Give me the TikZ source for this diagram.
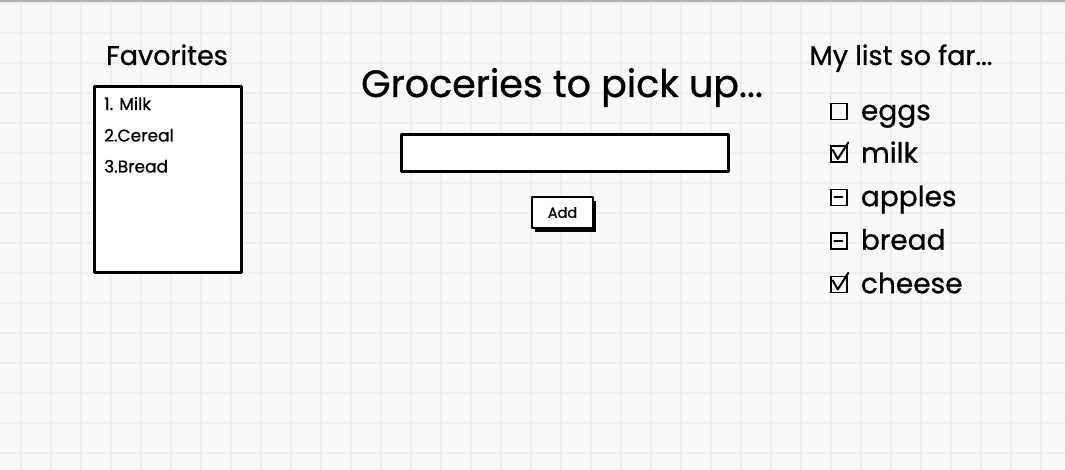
\documentclass[tikz,border=0pt]{standalone}
\usepackage{fontspec}
\setmainfont{Poppins}[FakeBold=0.8]
\usetikzlibrary{positioning}

\begin{document}
\begin{tikzpicture}[x=1pt,y=-1pt,
    sketch/.style={draw=black, line width=2.8pt, fill=white, line join=round},
    title/.style={font=\fontsize{27}{27}\selectfont, inner sep=0pt, anchor=base},
    entry/.style={font=\fontsize{17}{17}\selectfont, inner sep=0pt, anchor=base west},
    chkbox/.style={draw=black, line width=1.5pt, minimum size=16pt, inner sep=0pt},
    item/.style={font=\fontsize{28}{28}\selectfont, inner sep=0pt},
    tick/.style={line width=2pt, line cap=round, line join=round}]
    \useasboundingbox (0,0) rectangle (1065,470);
    % paper
    \fill[gray!5] (0,0) rectangle (1065,470);
    \foreach \x in {21,51,...,1065} \draw[gray!13, line width=1.6pt] (\x,0) -- (\x,470);
    \foreach \y in {3,33,...,470} \draw[gray!13, line width=1.6pt] (0,\y) -- (1065,\y);
    \fill[gray!60] (0,0) rectangle (1065,2);

    % favorites
    \node[title] (fav) at (167,65) {Favorites};
    \node[sketch, minimum width=147pt, minimum height=186pt, anchor=north west] (favbox) at (93,85) {};
    \node[entry] (fav1) at (104,110) {1. Milk};
    \node[entry] (fav2) at (104,141.5) {2.Cereal};
    \node[entry] (fav3) at (104,172.5) {3.Bread};

    % input
    \node[title, font=\fontsize{38}{38}\selectfont] (head) at (562,97) {Groceries to pick up...};
    \node[sketch, minimum width=327pt, minimum height=37pt, anchor=north west] (field) at (400,133) {};
    \node[fill=black, minimum width=61pt, minimum height=31pt, anchor=north west] (addshadow) at (535,201) {};
    \node[sketch, line width=2pt, minimum width=61pt, minimum height=31pt, anchor=north west,
          font=\fontsize{14.5}{14.5}\selectfont] (add) at (531,196) {Add};

    % list
    \node[title] (mylist) at (901,65) {My list so far...};
    \node[chkbox] (c1) at (839,111.5) {};
    \node[chkbox] (c2) at (839,154) {};
    \node[chkbox] (c3) at (839,197.5) {};
    \node[chkbox] (c4) at (839,241) {};
    \node[chkbox] (c5) at (839,284.5) {};
    \node[item, right=13pt of c1.south east, anchor=base west] (eggs) {eggs};
    \node[item, right=13pt of c2.south east, anchor=base west] (milk) {milk};
    \node[item, right=13pt of c3.south east, anchor=base west] (apples) {apples};
    \node[item, right=13pt of c4.south east, anchor=base west] (bread) {bread};
    \node[item, right=13pt of c5.south east, anchor=base west] (cheese) {cheese};
    \draw[tick] (c2.west) ++(2.5,-4) -- ++(5,9) -- ++(10.5,-16.5);
    \draw[tick] (c5.west) ++(2.5,-4) -- ++(5,9) -- ++(10.5,-16.5);
    \draw[tick] (c3.west) ++(4,0) -- ++(8,0);
    \draw[tick] (c4.west) ++(4,0) -- ++(8,0);
\end{tikzpicture}
\end{document}
